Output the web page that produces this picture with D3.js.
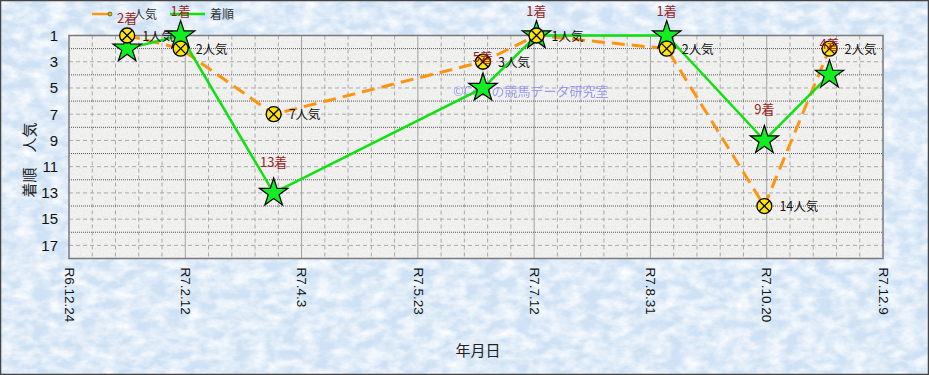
<!DOCTYPE html>
<html>
<head>
<meta charset="utf-8">
<script src="https://cdn.jsdelivr.net/npm/d3@7"></script>
<style>
  body { margin: 0; background: #fff; }
  svg { display: block; font-family: Arial, "Liberation Sans", "Noto Sans CJK JP", sans-serif; }
</style>
</head>
<body>
<div id="chart"></div>
<script>
// race dates (Reiwa calendar on the axis)
const raceDates = ["2025-01-18", "2025-02-10", "2025-03-22", "2025-06-20", "2025-07-13", "2025-09-07", "2025-10-19", "2025-11-16"];
const popularity = [1, 2, 7, 3, 1, 2, 14, 2];
const finish = [2, 1, 13, 5, 1, 1, 9, 4];
const xTickLabels = ["R6.12.24", "R7.2.12", "R7.4.3", "R7.5.23", "R7.7.12", "R7.8.31", "R7.10.20", "R7.12.9"];
const yTicks = [1, 3, 5, 7, 9, 11, 13, 15, 17];

const W = 929, H = 375;
const pLeft = 69, pRight = 883, pTop = 35.5, pBottom = 258.5;

const parse = d3.timeParse("%Y-%m-%d");
const x0 = parse("2024-12-24"), x1 = parse("2025-12-09");
const x = d3.scaleTime().domain([x0, x1]).range([pLeft, pRight]);
const y = d3.scaleLinear().domain([1, 18]).range([pTop, pBottom]);

const svg = d3.select("#chart").append("svg").attr("width", W).attr("height", H);
const defs = svg.append("defs");

// textures
const fb = defs.append("filter").attr("id", "bgTex").attr("x", 0).attr("y", 0).attr("width", "100%").attr("height", "100%");
fb.append("feTurbulence").attr("type", "fractalNoise").attr("baseFrequency", "0.06 0.1").attr("numOctaves", 4).attr("seed", 4).attr("result", "n");
fb.append("feColorMatrix").attr("in", "n").attr("type", "matrix")
  .attr("values", "0 0 0 0 1  0 0 0 0 1  0 0 0 0 1  1.7 0 0 0 -0.55").attr("result", "c");
fb.append("feFlood").attr("flood-color", "#cfe2f5").attr("result", "f");
fb.append("feComposite").attr("in", "c").attr("in2", "f").attr("operator", "over");

const fp = defs.append("filter").attr("id", "plotTex").attr("x", 0).attr("y", 0).attr("width", "100%").attr("height", "100%");
fp.append("feTurbulence").attr("type", "fractalNoise").attr("baseFrequency", "0.6").attr("numOctaves", 2).attr("seed", 7).attr("result", "n");
fp.append("feColorMatrix").attr("in", "n").attr("type", "matrix")
  .attr("values", "0 0 0 0 0.8  0 0 0 0 0.8  0 0 0 0 0.8  0 0 0 -2.2 1.3").attr("result", "c");
fp.append("feFlood").attr("flood-color", "#f2f2f1").attr("result", "f");
fp.append("feComposite").attr("in", "c").attr("in2", "f").attr("operator", "over");

svg.append("rect").attr("width", W).attr("height", H).attr("filter", "url(#bgTex)");
svg.append("rect").attr("x", 0.5).attr("y", 0.5).attr("width", W - 1).attr("height", H - 1)
  .attr("fill", "none").attr("stroke", "#444").attr("stroke-width", 1.5);

svg.append("rect").attr("x", pLeft).attr("y", pTop).attr("width", pRight - pLeft).attr("height", pBottom - pTop)
  .attr("filter", "url(#plotTex)");

// grid, one line every 10 days, darker at each axis tick
const grid = svg.append("g");
let vLines = [];
for (let i = 1; i < 35; i++) vLines.push(d3.timeDay.offset(x0, i * 10));
grid.selectAll(".v").data(vLines).join("line")
  .attr("x1", d => x(d)).attr("x2", d => x(d)).attr("y1", pTop).attr("y2", pBottom)
  .attr("stroke", (d, i) => (i + 1) % 5 === 0 ? "#555" : "#aaa")
  .attr("stroke-width", 1)
  .attr("stroke-dasharray", (d, i) => (i + 1) % 5 === 0 ? "1,1" : "4,3");
grid.selectAll(".h").data(d3.range(2, 18)).join("line")
  .attr("x1", pLeft).attr("x2", pRight).attr("y1", d => y(d)).attr("y2", d => y(d))
  .attr("stroke", d => d % 2 === 0 ? "#555" : "#aaa")
  .attr("stroke-width", 1)
  .attr("stroke-dasharray", d => d % 2 === 0 ? "1,1" : "4,3");

svg.append("rect").attr("x", pLeft).attr("y", pTop).attr("width", pRight - pLeft).attr("height", pBottom - pTop)
  .attr("fill", "none").attr("stroke", "#7a7a7a").attr("stroke-width", 1.5);

// axes
const xTicks = xTickLabels.map((t, i) => d3.timeDay.offset(x0, i * 50));
const xAxis = svg.append("g").attr("transform", `translate(0,${pBottom})`)
  .call(d3.axisBottom(x).tickValues(xTicks).tickFormat((d, i) => xTickLabels[i]).tickSize(0));
xAxis.select(".domain").remove();
xAxis.selectAll("text")
  .attr("transform", "rotate(90)")
  .attr("x", 9).attr("y", 0).attr("dy", "0.35em")
  .attr("text-anchor", "start")
  .attr("font-size", 13.5).attr("fill", "#111")
  .attr("font-family", "Arial, 'Liberation Sans', sans-serif");

const yAxis = svg.append("g").attr("transform", `translate(${pLeft},0)`)
  .call(d3.axisLeft(y).tickValues(yTicks).tickFormat(d3.format("d")).tickSize(0).tickPadding(11));
yAxis.select(".domain").remove();
yAxis.selectAll("text").attr("font-size", 15).attr("fill", "#111")
  .attr("font-family", "Arial, 'Liberation Sans', sans-serif");

svg.append("text").attr("transform", "translate(35,160) rotate(-90)")
  .attr("text-anchor", "middle").attr("font-size", 15).attr("fill", "#222")
  .attr("font-family", "'Noto Sans CJK JP', sans-serif")
  .text("着順　人気");
svg.append("text").attr("x", 478).attr("y", 356)
  .attr("text-anchor", "middle").attr("font-size", 15).attr("fill", "#222")
  .attr("font-family", "'Noto Sans CJK JP', sans-serif")
  .text("年月日");

// watermark
svg.append("text").attr("x", 453).attr("y", 96)
  .attr("font-size", 13).attr("fill", "#8c8cf0").attr("opacity", 0.85)
  .attr("font-family", "'Noto Sans CJK JP', sans-serif")
  .text("©Coolの競馬データ研究室");

const rows = raceDates.map((d, i) => ({ date: parse(d), pop: popularity[i], fin: finish[i] }));

const line = (key) => d3.line().x(d => x(d.date)).y(d => y(d[key]));

svg.append("path").datum(rows).attr("d", line("pop"))
  .attr("fill", "none").attr("stroke", "#ff9410").attr("stroke-width", 3)
  .attr("stroke-dasharray", "13,7");
svg.append("path").datum(rows).attr("d", line("fin"))
  .attr("fill", "none").attr("stroke", "#11e011").attr("stroke-width", 2.5);

// stars for finish
const star = d3.symbol().type(d3.symbolStar).size(250);
svg.selectAll(".star").data(rows).join("path")
  .attr("transform", d => `translate(${x(d.date)},${y(d.fin)})`)
  .attr("d", star).attr("fill", "#11ee22").attr("stroke", "#000").attr("stroke-width", 1.2);

// circle-x markers for popularity
const pm = svg.selectAll(".pm").data(rows).join("g")
  .attr("transform", d => `translate(${x(d.date)},${y(d.pop)})`);
pm.append("circle").attr("r", 7.5).attr("fill", "#ffe600").attr("stroke", "#000").attr("stroke-width", 1.3);
pm.append("path").attr("d", "M-5,-5L5,5M-5,5L5,-5").attr("stroke", "#000").attr("stroke-width", 1.3);

// labels
svg.selectAll(".plab").data(rows).join("text")
  .attr("x", d => x(d.date) + 15).attr("y", d => y(d.pop) + 5)
  .attr("font-size", 12.5).attr("fill", "#111")
  .attr("font-family", "'Noto Sans CJK JP', sans-serif")
  .text(d => d.pop + "人気");
svg.selectAll(".flab").data(rows).join("text")
  .attr("x", d => x(d.date)).attr("y", d => Math.max(y(d.fin) - 26, 16))
  .attr("text-anchor", "middle")
  .attr("font-size", 13).attr("fill", "#9b1c1c")
  .attr("font-family", "'Noto Sans CJK JP', sans-serif")
  .text(d => d.fin + "着");

// legend
const lg = svg.append("g");
lg.append("line").attr("x1", 92).attr("x2", 110).attr("y1", 14).attr("y2", 14)
  .attr("stroke", "#ff9410").attr("stroke-width", 2.5);
lg.append("circle").attr("cx", 110).attr("cy", 14).attr("r", 2).attr("fill", "#c8c000").attr("stroke", "#333").attr("stroke-width", 0.6);
lg.append("text").attr("x", 133).attr("y", 19).attr("font-size", 12).attr("fill", "#333")
  .attr("font-family", "'Noto Sans CJK JP', sans-serif").text("人気");
lg.append("line").attr("x1", 170).attr("x2", 205).attr("y1", 14).attr("y2", 14)
  .attr("stroke", "#11e011").attr("stroke-width", 2.5);
lg.append("text").attr("x", 210).attr("y", 19).attr("font-size", 12).attr("fill", "#333")
  .attr("font-family", "'Noto Sans CJK JP', sans-serif").text("着順");
svg.selectAll("text").filter(function () { return this.textContent.endsWith("着"); }).raise();
</script>
</body>
</html>
